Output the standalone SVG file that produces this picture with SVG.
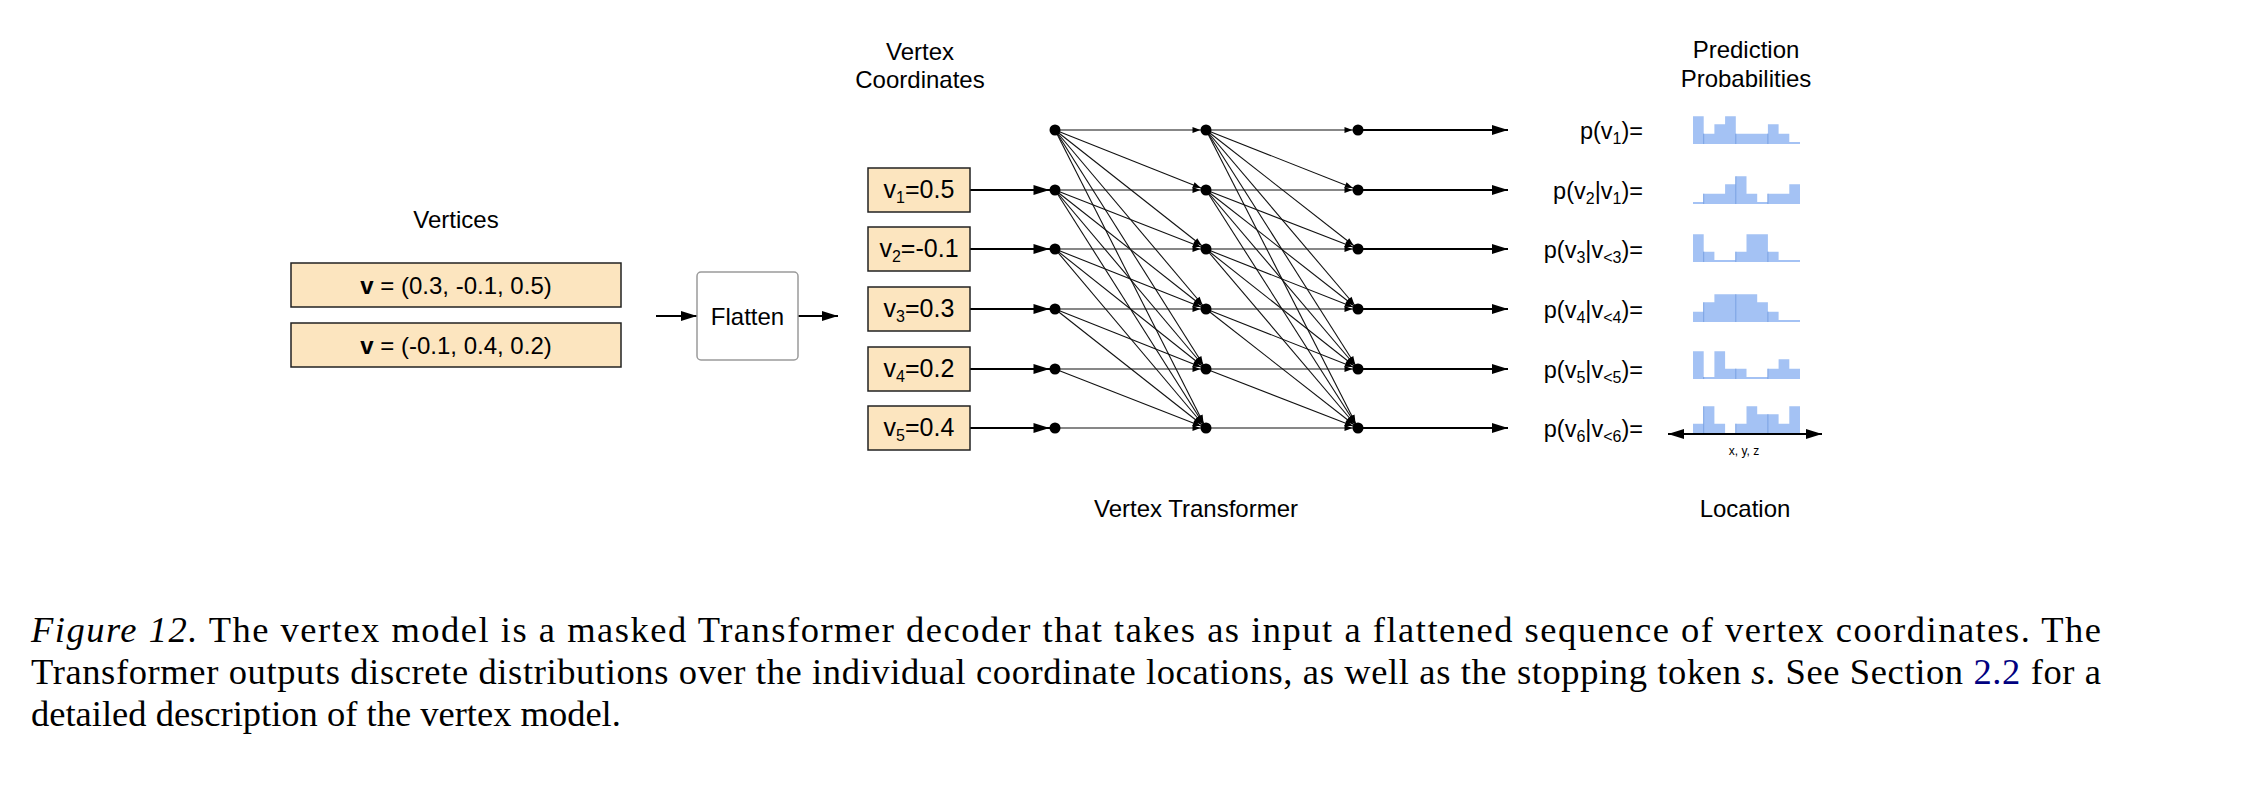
<svg xmlns="http://www.w3.org/2000/svg" width="2242" height="798" viewBox="0 0 2242 798">
<style>
.lbl{font-family:"Liberation Sans",Arial,sans-serif;font-size:24px;fill:#000}
.vl{font-family:"Liberation Sans",Arial,sans-serif;font-size:25px;fill:#000;text-anchor:middle}
.mid{text-anchor:middle}
.plb{font-family:"Liberation Sans",Arial,sans-serif;font-size:23.5px;fill:#000;text-anchor:end}
.sub{font-size:16px}
.vbox{fill:#fce5bf;stroke:#222;stroke-width:1.5}
.flat{fill:#fff;stroke:#9a9a9a;stroke-width:1.5}
.dot{fill:#000}
.e{stroke:#111;stroke-width:1.1;fill:none;marker-end:url(#sm)}
.thick{stroke:#000;stroke-width:2;fill:none;marker-end:url(#big)}
.thickin{stroke:#000;stroke-width:2;fill:none;marker-end:url(#bigin)}
.bar{fill:#a4c2f4}
.bl{stroke:#7aa2e3;stroke-width:1}
.cap{font-family:"Liberation Serif","Times New Roman",serif;font-size:36.5px;fill:#000}
</style>
<defs>
<marker id="sm" markerUnits="userSpaceOnUse" markerWidth="14" markerHeight="6" refX="13.5" refY="3" orient="auto" overflow="visible"><path d="M0,0 L8,3 L0,6 Z" fill="#000"/></marker>
<marker id="big" markerUnits="userSpaceOnUse" markerWidth="16" markerHeight="10" refX="16" refY="5" orient="auto-start-reverse" overflow="visible"><path d="M0,0 L16,5 L0,10 Z" fill="#000"/></marker>
<marker id="bigin" markerUnits="userSpaceOnUse" markerWidth="22" markerHeight="10" refX="21.5" refY="5" orient="auto" overflow="visible"><path d="M0,0 L16,5 L0,10 Z" fill="#000"/></marker>
</defs>
<rect width="2242" height="798" fill="#fff"/>

<g id="connectors">
<line class="thick" x1="656" y1="316" x2="697" y2="316"/>
<line class="thick" x1="798" y1="316" x2="838" y2="316"/>
<line class="thickin" x1="970" y1="190" x2="1055" y2="190"/>
<line class="thickin" x1="970" y1="249" x2="1055" y2="249"/>
<line class="thickin" x1="970" y1="309" x2="1055" y2="309"/>
<line class="thickin" x1="970" y1="369" x2="1055" y2="369"/>
<line class="thickin" x1="970" y1="428" x2="1055" y2="428"/>
<line class="e" x1="1055" y1="130" x2="1206" y2="130"/>
<line class="e" x1="1055" y1="130" x2="1206" y2="190"/>
<line class="e" x1="1055" y1="130" x2="1206" y2="249"/>
<line class="e" x1="1055" y1="130" x2="1206" y2="309"/>
<line class="e" x1="1055" y1="130" x2="1206" y2="369"/>
<line class="e" x1="1055" y1="130" x2="1206" y2="428"/>
<line class="e" x1="1055" y1="190" x2="1206" y2="190"/>
<line class="e" x1="1055" y1="190" x2="1206" y2="249"/>
<line class="e" x1="1055" y1="190" x2="1206" y2="309"/>
<line class="e" x1="1055" y1="190" x2="1206" y2="369"/>
<line class="e" x1="1055" y1="190" x2="1206" y2="428"/>
<line class="e" x1="1055" y1="249" x2="1206" y2="249"/>
<line class="e" x1="1055" y1="249" x2="1206" y2="309"/>
<line class="e" x1="1055" y1="249" x2="1206" y2="369"/>
<line class="e" x1="1055" y1="249" x2="1206" y2="428"/>
<line class="e" x1="1055" y1="309" x2="1206" y2="309"/>
<line class="e" x1="1055" y1="309" x2="1206" y2="369"/>
<line class="e" x1="1055" y1="309" x2="1206" y2="428"/>
<line class="e" x1="1055" y1="369" x2="1206" y2="369"/>
<line class="e" x1="1055" y1="369" x2="1206" y2="428"/>
<line class="e" x1="1055" y1="428" x2="1206" y2="428"/>
<line class="e" x1="1206" y1="130" x2="1358" y2="130"/>
<line class="e" x1="1206" y1="130" x2="1358" y2="190"/>
<line class="e" x1="1206" y1="130" x2="1358" y2="249"/>
<line class="e" x1="1206" y1="130" x2="1358" y2="309"/>
<line class="e" x1="1206" y1="130" x2="1358" y2="369"/>
<line class="e" x1="1206" y1="130" x2="1358" y2="428"/>
<line class="e" x1="1206" y1="190" x2="1358" y2="190"/>
<line class="e" x1="1206" y1="190" x2="1358" y2="249"/>
<line class="e" x1="1206" y1="190" x2="1358" y2="309"/>
<line class="e" x1="1206" y1="190" x2="1358" y2="369"/>
<line class="e" x1="1206" y1="190" x2="1358" y2="428"/>
<line class="e" x1="1206" y1="249" x2="1358" y2="249"/>
<line class="e" x1="1206" y1="249" x2="1358" y2="309"/>
<line class="e" x1="1206" y1="249" x2="1358" y2="369"/>
<line class="e" x1="1206" y1="249" x2="1358" y2="428"/>
<line class="e" x1="1206" y1="309" x2="1358" y2="309"/>
<line class="e" x1="1206" y1="309" x2="1358" y2="369"/>
<line class="e" x1="1206" y1="309" x2="1358" y2="428"/>
<line class="e" x1="1206" y1="369" x2="1358" y2="369"/>
<line class="e" x1="1206" y1="369" x2="1358" y2="428"/>
<line class="e" x1="1206" y1="428" x2="1358" y2="428"/>
<line class="thick" x1="1358" y1="130" x2="1508" y2="130"/>
<line class="thick" x1="1358" y1="190" x2="1508" y2="190"/>
<line class="thick" x1="1358" y1="249" x2="1508" y2="249"/>
<line class="thick" x1="1358" y1="309" x2="1508" y2="309"/>
<line class="thick" x1="1358" y1="369" x2="1508" y2="369"/>
<line class="thick" x1="1358" y1="428" x2="1508" y2="428"/>
</g>

<g id="vertices">
<text class="lbl mid" x="456" y="228">Vertices</text>
<g id="vertex-a"><rect class="vbox" x="291" y="263" width="330" height="44"/><text class="lbl mid" x="456" y="294"><tspan font-weight="bold">v</tspan> = (0.3, -0.1, 0.5)</text></g>
<g id="vertex-b"><rect class="vbox" x="291" y="323" width="330" height="44"/><text class="lbl mid" x="456" y="354"><tspan font-weight="bold">v</tspan> = (-0.1, 0.4, 0.2)</text></g>
</g>

<g id="flatten"><rect class="flat" x="697" y="272" width="101" height="88" rx="4"/><text class="lbl mid" x="747.5" y="324.5">Flatten</text></g>

<g id="vertex-coordinates">
<text class="lbl mid" x="920" y="60">Vertex</text>
<text class="lbl mid" x="920" y="88">Coordinates</text>
<g id="vc1"><rect class="vbox" x="868" y="168" width="102" height="44"/><text class="vl" x="919" y="198">v<tspan class="sub" dy="5">1</tspan><tspan dy="-5">=0.5</tspan></text></g>
<g id="vc2"><rect class="vbox" x="868" y="227" width="102" height="44"/><text class="vl" x="919" y="257">v<tspan class="sub" dy="5">2</tspan><tspan dy="-5">=-0.1</tspan></text></g>
<g id="vc3"><rect class="vbox" x="868" y="287" width="102" height="44"/><text class="vl" x="919" y="317">v<tspan class="sub" dy="5">3</tspan><tspan dy="-5">=0.3</tspan></text></g>
<g id="vc4"><rect class="vbox" x="868" y="347" width="102" height="44"/><text class="vl" x="919" y="377">v<tspan class="sub" dy="5">4</tspan><tspan dy="-5">=0.2</tspan></text></g>
<g id="vc5"><rect class="vbox" x="868" y="406" width="102" height="44"/><text class="vl" x="919" y="436">v<tspan class="sub" dy="5">5</tspan><tspan dy="-5">=0.4</tspan></text></g>
</g>

<g id="transformer">
<g id="n1-0"><circle class="dot" cx="1055" cy="130" r="5.5"/></g>
<g id="n1-1"><circle class="dot" cx="1055" cy="190" r="5.5"/></g>
<g id="n1-2"><circle class="dot" cx="1055" cy="249" r="5.5"/></g>
<g id="n1-3"><circle class="dot" cx="1055" cy="309" r="5.5"/></g>
<g id="n1-4"><circle class="dot" cx="1055" cy="369" r="5.5"/></g>
<g id="n1-5"><circle class="dot" cx="1055" cy="428" r="5.5"/></g>
<g id="n2-0"><circle class="dot" cx="1206" cy="130" r="5.5"/></g>
<g id="n2-1"><circle class="dot" cx="1206" cy="190" r="5.5"/></g>
<g id="n2-2"><circle class="dot" cx="1206" cy="249" r="5.5"/></g>
<g id="n2-3"><circle class="dot" cx="1206" cy="309" r="5.5"/></g>
<g id="n2-4"><circle class="dot" cx="1206" cy="369" r="5.5"/></g>
<g id="n2-5"><circle class="dot" cx="1206" cy="428" r="5.5"/></g>
<g id="n3-0"><circle class="dot" cx="1358" cy="130" r="5.5"/></g>
<g id="n3-1"><circle class="dot" cx="1358" cy="190" r="5.5"/></g>
<g id="n3-2"><circle class="dot" cx="1358" cy="249" r="5.5"/></g>
<g id="n3-3"><circle class="dot" cx="1358" cy="309" r="5.5"/></g>
<g id="n3-4"><circle class="dot" cx="1358" cy="369" r="5.5"/></g>
<g id="n3-5"><circle class="dot" cx="1358" cy="428" r="5.5"/></g>
<text class="lbl mid" x="1196" y="517">Vertex Transformer</text>
</g>

<g id="prob-labels">
<text class="plb" x="1643" y="139">p(v<tspan class="sub" dy="5">1</tspan><tspan dy="-5">)=</tspan></text>
<text class="plb" x="1643" y="199">p(v<tspan class="sub" dy="5">2</tspan><tspan dy="-5">|v</tspan><tspan class="sub" dy="5">1</tspan><tspan dy="-5">)=</tspan></text>
<text class="plb" x="1643" y="258">p(v<tspan class="sub" dy="5">3</tspan><tspan dy="-5">|v</tspan><tspan class="sub" dy="5">&lt;3</tspan><tspan dy="-5">)=</tspan></text>
<text class="plb" x="1643" y="318">p(v<tspan class="sub" dy="5">4</tspan><tspan dy="-5">|v</tspan><tspan class="sub" dy="5">&lt;4</tspan><tspan dy="-5">)=</tspan></text>
<text class="plb" x="1643" y="378">p(v<tspan class="sub" dy="5">5</tspan><tspan dy="-5">|v</tspan><tspan class="sub" dy="5">&lt;5</tspan><tspan dy="-5">)=</tspan></text>
<text class="plb" x="1643" y="437">p(v<tspan class="sub" dy="5">6</tspan><tspan dy="-5">|v</tspan><tspan class="sub" dy="5">&lt;6</tspan><tspan dy="-5">)=</tspan></text>
</g>

<g id="histograms">
<text class="lbl mid" x="1746" y="58">Prediction</text>
<text class="lbl mid" x="1746" y="87">Probabilities</text>
<g id="hist1"><path class="bar" d="M1693,144 V116.3 H1703.7 V133.7 H1714.4 V124.3 H1725.1 V116.3 H1735.8 V133.7 H1767.9 V124.3 H1778.6 V133.7 H1789.3 V142 H1800 V144 Z"/><path class="bl" d="M1703.7,144 V133.7 M1735.8,144 V133.7 M1767.9,144 V133.7"/></g>
<g id="hist2"><path class="bar" d="M1693,204 V202 H1703.7 V193.7 H1725.1 V184.3 H1735.8 V176.3 H1746.5 V193.7 H1757.2 V202 H1767.9 V193.7 H1789.3 V184.3 H1800 V204 Z"/><path class="bl" d="M1703.7,204 V193.7 M1735.8,204 V176.3 M1767.9,204 V193.7"/></g>
<g id="hist3"><path class="bar" d="M1693,262 V234.3 H1703.7 V251.7 H1714.4 V260 H1735.8 V251.7 H1746.5 V234.3 H1767.9 V251.7 H1778.6 V260 H1800 V262 Z"/><path class="bl" d="M1703.7,262 V251.7 M1735.8,262 V251.7 M1767.9,262 V251.7"/></g>
<g id="hist4"><path class="bar" d="M1693,322 V311.7 H1703.7 V302.3 H1714.4 V294.3 H1757.2 V302.3 H1767.9 V311.7 H1778.6 V320 H1800 V322 Z"/><path class="bl" d="M1703.7,322 V302.3 M1735.8,322 V294.3 M1767.9,322 V311.7"/></g>
<g id="hist5"><path class="bar" d="M1693,379 V351.3 H1703.7 V377 H1714.4 V351.3 H1725.1 V368.7 H1746.5 V377 H1767.9 V368.7 H1778.6 V359.3 H1789.3 V368.7 H1800 V379 Z"/><path class="bl" d="M1703.7,379 V377 M1735.8,379 V368.7 M1767.9,379 V368.7"/></g>
<g id="hist6"><path class="bar" d="M1693,434 V423.7 H1703.7 V406.3 H1714.4 V423.7 H1725.1 V434 H1735.8 V423.7 H1746.5 V406.3 H1757.2 V414.3 H1778.6 V423.7 H1789.3 V406.3 H1800 V434 Z"/><path class="bl" d="M1703.7,434 V406.3 M1735.8,434 V423.7 M1767.9,434 V414.3"/></g>
<g id="location-axis"><line x1="1668" y1="434" x2="1822" y2="434" stroke="#000" stroke-width="2" marker-start="url(#big)" marker-end="url(#big)"/><text class="mid" x="1744" y="455" font-family="Liberation Sans, Arial, sans-serif" font-size="12">x, y, z</text></g>
<text class="lbl mid" x="1745" y="517">Location</text>
</g>

<g id="caption">
<text class="cap" x="31" y="642" textLength="2070" lengthAdjust="spacing"><tspan font-style="italic">Figure 12.</tspan> The vertex model is a masked Transformer decoder that takes as input a flattened sequence of vertex coordinates.  The</text>
<text class="cap" x="31" y="684" textLength="2070" lengthAdjust="spacing">Transformer outputs discrete distributions over the individual coordinate locations, as well as the stopping token <tspan font-style="italic">s</tspan>. See Section <tspan fill="#000080">2.2</tspan> for a</text>
<text class="cap" x="31" y="726">detailed description of the vertex model.</text>
</g>
</svg>
